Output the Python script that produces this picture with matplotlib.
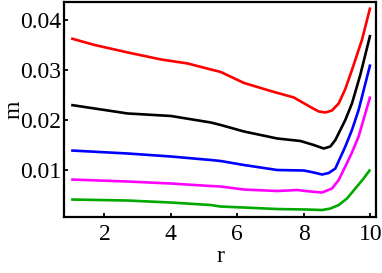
import matplotlib
matplotlib.use("Agg")
import matplotlib.pyplot as plt

plt.rcParams['font.family'] = ['Liberation Serif', 'DejaVu Serif']
plt.rcParams['mathtext.fontset'] = 'stix'

r_red = [1.0, 1.7, 2.7, 3.7, 4.5, 5.2, 5.5, 6.2, 7.0, 7.7, 8.2, 8.45, 8.65, 8.85, 9.05, 9.25, 9.45, 9.75, 10.0]
m_red = [0.0363, 0.0350, 0.0335, 0.0321, 0.0313, 0.0301, 0.0296, 0.0274, 0.0258, 0.0245, 0.0226, 0.0217, 0.0215, 0.0219, 0.0233, 0.0262, 0.0300, 0.0360, 0.0425]

r_blk = [1.0, 2.7, 4.0, 5.2, 5.5, 6.2, 7.2, 7.9, 8.3, 8.6, 8.8, 8.95, 9.25, 9.45, 9.7, 10.0]
m_blk = [0.0230, 0.0213, 0.0208, 0.0195, 0.0190, 0.0177, 0.0163, 0.0158, 0.0150, 0.0143, 0.0147, 0.0160, 0.0200, 0.0233, 0.0290, 0.0370]

r_blu = [1.0, 2.7, 4.0, 5.2, 5.5, 6.2, 7.2, 8.0, 8.3, 8.55, 8.75, 8.95, 9.25, 9.45, 9.65, 10.0]
m_blu = [0.0139, 0.0133, 0.0127, 0.0120, 0.0118, 0.0110, 0.0100, 0.0099, 0.0095, 0.0091, 0.0094, 0.0103, 0.0147, 0.0180, 0.0220, 0.0311]

r_mag = [1.0, 2.7, 4.0, 5.2, 5.5, 6.2, 7.2, 7.8, 8.2, 8.55, 8.85, 9.05, 9.25, 9.45, 9.65, 10.0]
m_mag = [0.0081, 0.0077, 0.0073, 0.0068, 0.0067, 0.0061, 0.0058, 0.0060, 0.0057, 0.0055, 0.0063, 0.0080, 0.0107, 0.0135, 0.0167, 0.0247]

r_grn = [1.0, 2.7, 4.0, 5.2, 5.5, 6.2, 7.2, 8.1, 8.55, 8.8, 9.05, 9.3, 9.55, 9.8, 10.0]
m_grn = [0.0041, 0.0039, 0.0035, 0.0030, 0.0027, 0.0025, 0.0022, 0.0021, 0.0020, 0.0023, 0.0030, 0.0043, 0.0063, 0.0083, 0.0101]

series = [
    (r_red, m_red, '#ff0000'),
    (r_blk, m_blk, '#000000'),
    (r_blu, m_blu, '#0000ff'),
    (r_mag, m_mag, '#ff00ff'),
    (r_grn, m_grn, '#00a800'),
]

xticks = [2, 4, 6, 8, 10]
yticks = [0.01, 0.02, 0.03, 0.04]
yticklabels = ['0.01', '0.02', '0.03', '0.04']

fig = plt.figure(figsize=(3.82, 2.73), dpi=100)
ax = fig.add_axes([0.168, 0.205, 0.816, 0.788])
for x, y, c in series:
    ax.plot(x, y, color=c, lw=1.9, solid_capstyle='butt', solid_joinstyle='round')

ax.set_xlim(0.79, 10.17)
ax.set_ylim(0.0006, 0.0436)
ax.set_xticks(xticks)
ax.set_xticklabels([str(t) for t in xticks])
ax.set_yticks(yticks)
ax.set_yticklabels(yticklabels)
ax.tick_params(direction='in', length=3, width=1.3, labelsize=17, top=False, right=False)
ax.tick_params(axis='x', pad=5)
ax.tick_params(axis='y', pad=2)
for s in ax.spines.values():
    s.set_linewidth(1.6)
ax.set_xlabel('r', fontsize=17, labelpad=1)
ax.set_ylabel('m', fontsize=17, labelpad=-3)

fig.savefig('out.png', dpi=100)
